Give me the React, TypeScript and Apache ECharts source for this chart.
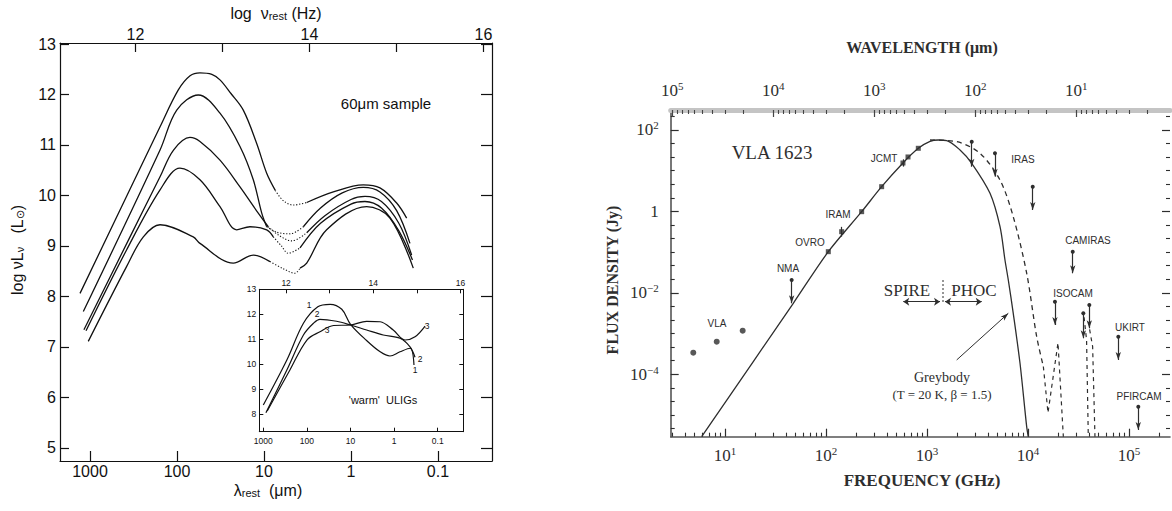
import React, { useEffect, useRef } from 'react';
import * as echarts from 'echarts';

// ---------- Left panel: 60μm sample (x = log10 λrest [μm], y = log νLν [L⊙]) ----------
const sed1Solid = [[3.115, 8.06], [2.195, 11.36], [1.985, 12.09], [1.85, 12.37], [1.736, 12.43], [1.6, 12.4], [1.506, 12.29], [1.38, 12.02], [1.238, 11.69], [1.084, 11.03], [0.969, 10.44], [0.87, 10.1]];
const sed1Dotted = [[0.87, 10.1], [0.78, 9.9], [0.663, 9.81], [0.58, 9.83], [0.509, 9.86]];
const sed1Near = [[0.509, 9.86], [0.203, 10.07], [-0.141, 10.21], [-0.333, 10.15], [-0.525, 9.85], [-0.64, 9.55]];

const sed2Solid = [[3.077, 7.7], [2.195, 10.9], [2.003, 11.69], [1.755, 11.99], [1.506, 11.63], [1.276, 10.97], [1.123, 10.31], [1.026, 9.65], [0.969, 9.38]];
const sed2Dotted = [[0.969, 9.38], [0.85, 9.27], [0.7, 9.24], [0.548, 9.38]];
const sed2Near = [[0.548, 9.38], [0.35, 9.75], [0.1, 10.05], [-0.141, 10.16], [-0.333, 10.07], [-0.525, 9.7], [-0.678, 9.05]];

const sed3Solid = [[3.07, 7.34], [2.54, 9.18], [2.195, 10.37], [2.04, 10.9], [1.851, 11.15], [1.736, 11.07], [1.506, 10.7], [1.276, 10.17], [1.066, 9.65], [0.951, 9.38]];
const sed3Dotted = [[0.951, 9.38], [0.82, 9.2], [0.682, 9.1], [0.509, 9.26]];
const sed3Near = [[0.509, 9.26], [0.3, 9.6], [0.0, 9.92], [-0.161, 9.98], [-0.35, 9.88], [-0.55, 9.45], [-0.697, 8.82]];

const sed4Solid = [[3.046, 7.32], [2.58, 8.92], [2.195, 10.11], [1.966, 10.54], [1.736, 10.31], [1.506, 9.78], [1.314, 9.32], [1.161, 9.38], [0.969, 9.32], [0.893, 9.18]];
const sed4Dotted = [[0.893, 9.18], [0.8, 9.0], [0.721, 8.855], [0.586, 8.96]];
const sed4Near = [[0.586, 8.96], [0.35, 9.45], [0.0, 9.83], [-0.161, 9.88], [-0.35, 9.75], [-0.55, 9.3], [-0.707, 8.72]];

const sed5Solid = [[3.02, 7.11], [2.58, 8.59], [2.387, 9.18], [2.195, 9.42], [1.813, 9.18], [1.736, 9.05], [1.353, 8.66], [1.123, 8.82], [0.931, 8.69]];
const sed5Dotted = [[0.931, 8.69], [0.78, 8.55], [0.644, 8.46], [0.586, 8.56]];
const sed5Near = [[0.586, 8.56], [0.509, 8.66], [0.28, 9.32], [-0.18, 9.78], [-0.448, 9.55], [-0.716, 8.56]];

// ---------- Inset: 'warm' ULIGs ----------
const warm1 = [[3.0, 8.37], [2.46, 10.17], [2.08, 11.64], [1.75, 12.3], [1.47, 12.4], [1.2, 12.2], [1.0, 11.6], [0.63, 10.95], [0.32, 10.5], [0.095, 10.33], [-0.135, 10.5], [-0.365, 10.64], [-0.456, 9.97]];
const warm2 = [[2.94, 8.06], [2.46, 9.77], [2.08, 11.17], [1.85, 11.64], [1.7, 11.8], [1.32, 11.72], [1.0, 11.57], [0.63, 11.37], [0.25, 11.17], [-0.135, 11.04], [-0.365, 10.7], [-0.48, 10.28]];
const warm3 = [[2.91, 8.13], [2.39, 9.77], [2.0, 10.97], [1.7, 11.3], [1.39, 11.55], [1.0, 11.57], [0.63, 11.72], [0.32, 11.7], [0.02, 11.37], [-0.25, 10.97], [-0.48, 11.1], [-0.71, 11.53]];

// ---------- Right panel: VLA 1623 (x = log10 ν [GHz], y = log10 flux [Jy]) ----------
const greybody = [[0.769, -5.536], [1.676, -2.258], [2.023, -0.99], [2.353, -0.007], [2.551, 0.607], [2.762, 1.19], [2.914, 1.55], [3.03, 1.72], [3.112, 1.754], [3.195, 1.74], [3.327, 1.509], [3.443, 1.182], [3.624, 0.444], [3.723, -0.376], [3.772, -1.194], [3.805, -1.686], [3.854, -2.504], [3.921, -3.732], [3.987, -5.29], [4.003, -5.536]];
const modelDashed = [[3.03, 1.754], [3.294, 1.713], [3.525, 1.427], [3.723, 0.771], [3.854, -0.13], [3.987, -1.52], [4.086, -3.079], [4.152, -3.81]];
const modelDashedV = [[4.152, -3.81], [4.198, -4.95], [4.297, -3.23], [4.35, -5.536]];
const modelDashedA = [[4.555, -2.6], [4.58, -3.16], [4.597, -5.536]];
const modelDashedB = [[4.61, -2.9], [4.64, -3.32], [4.663, -5.536]];
const detections = [[2.023, -0.99], [2.155, -0.499], [2.353, -0.007], [2.551, 0.607], [2.762, 1.189], [2.812, 1.337], [2.914, 1.55]];
const vlaPoints = [[0.686, -3.472], [0.918, -3.201], [1.175, -2.931]];
// [log ν, top of limit, arrow tip]
const upperLimits = [[1.66, -1.686, -2.258], [3.443, 1.713, 1.098], [3.673, 1.427, 0.853], [4.047, 0.607, 0.034], [4.443, -0.99, -1.521], [4.267, -2.219, -2.791], [4.548, -2.504, -3.118], [4.607, -2.3, -2.872], [4.894, -3.079, -3.651], [5.092, -4.799, -5.371]];
const errorBars = [[2.155, -0.62, -0.38], [2.762, 1.1, 1.28]];
const spireRange = [2.765, 3.129];
const phocRange = [3.178, 3.542];
const rangeLevel = -2.22;
const pointerFrom = [3.294, -3.65];
const pointerTo = [3.805, -2.504];

// ---------- tick values ----------
const lambdaTicks = [3, 2, 1, 0, -1];
const lambdaLabels = ['1000', '100', '10', '1', '0.1'];
const nuTicks = [12, 13, 14, 15, 16];
const nuLabels = [12, 14, 16];
const lumTicks = [5, 6, 7, 8, 9, 10, 11, 12, 13];
const insetLumTicks = [8, 9, 10, 11, 12, 13];
const freqDecades = [1, 2, 3, 4, 5];
const waveDecades = [1, 2, 3, 4, 5];
const fluxDecades = [-4, -2, 0, 2];

const SANS = '"Liberation Sans", Arial, sans-serif';
const SERIF = '"Liberation Serif", "DejaVu Serif", serif';
const INK = '#111';
const INK2 = '#2e2e2e';

const FREQ_MIN = 0.4624, FREQ_MAX = 5.406;
const WAVE_MIN = 5.477 - FREQ_MAX, WAVE_MAX = 5.477 - FREQ_MIN;
const FLUX_MIN = -5.536, FLUX_MAX = 2.491;

function logMinor(lo: number, hi: number) {
  const out: number[] = [];
  for (let n = -1; n <= 6; n++) {
    for (let k = 2; k <= 9; k++) {
      const v = n + Math.log10(k);
      if (v > lo && v < hi) out.push(v);
    }
  }
  return out;
}
function thirds(lo: number, hi: number) {
  const out: number[] = [];
  for (let k = -18; k <= 9; k++) {
    const v = k / 3;
    if (v > lo && v < hi && k % 6 !== 0) out.push(v);
  }
  return out;
}

const supFmt = (v: number) => (v === 0 ? '{b|1}' : `{b|10}{s|${v < 0 ? '−' + -v : v}}`);
const supRich = {
  b: { fontSize: 17, fontFamily: SERIF, color: INK2 },
  s: { fontSize: 11, fontFamily: SERIF, color: INK2, padding: [0, 0, 9, 0] },
};

function ax(o: any) {
  return {
    type: 'value',
    splitLine: { show: false },
    ...o,
    axisLine: { show: true, onZero: false, lineStyle: { color: INK, width: 1.2 }, ...(o.axisLine || {}) },
    axisTick: { show: true, inside: true, ...(o.axisTick || {}) },
    axisLabel: { show: false, ...(o.axisLabel || {}) },
  };
}

function line(data: number[][], xi: number, yi: number, type: any, width = 1.3, smooth: any = 0.35) {
  return {
    type: 'line', data, xAxisIndex: xi, yAxisIndex: yi, smooth, symbol: 'none', silent: true,
    lineStyle: { color: INK, width, type }, z: 3,
  };
}

const DOT = [1.2, 1.8];

function txt(text: string, x: number, y: number, size: number, family = SANS, extra: any = {}) {
  return {
    type: 'text', x, y, silent: true, ...extra,
    style: {
      text, fill: extra.fill || INK, fontSize: size, fontFamily: family, fontWeight: extra.weight || 'normal',
      align: 'center', verticalAlign: 'middle', textAlign: 'center', textVerticalAlign: 'middle',
      ...(extra.style || {}),
    },
  };
}

function buildOption() {
  const subRich = (size: number, fam: string) => ({
    a: { fontSize: size, fontFamily: fam, fill: INK },
    s: { fontSize: Math.round(size * 0.7), fontFamily: fam, fill: INK, padding: [Math.round(size * 0.35), 0, 0, 0] },
  });

  const xAxis = [
    // 0 main bottom λ
    ax({ gridIndex: 0, position: 'bottom', min: -1.621, max: 3.345, inverse: true,
      axisTick: { length: 10, customValues: lambdaTicks, lineStyle: { color: INK, width: 1.2 } },
      axisLabel: { show: true, customValues: lambdaTicks, formatter: (v: number) => lambdaLabels[lambdaTicks.indexOf(v)], fontSize: 16, fontFamily: SANS, color: INK, margin: 2 } }),
    // 1 main top ν
    ax({ gridIndex: 0, position: 'top', min: 11.132, max: 16.098,
      axisTick: { length: 9, customValues: nuTicks, lineStyle: { color: INK, width: 1.2 } },
      axisLabel: { show: true, customValues: nuLabels, fontSize: 16, fontFamily: SANS, color: INK, margin: 1 } }),
    // 2 inset bottom
    ax({ gridIndex: 1, position: 'bottom', min: -1.587, max: 3.092, inverse: true,
      axisLine: { lineStyle: { color: INK, width: 1 } },
      axisTick: { length: 4, customValues: lambdaTicks, lineStyle: { color: INK } },
      axisLabel: { show: true, customValues: lambdaTicks, formatter: (v: number) => lambdaLabels[lambdaTicks.indexOf(v)], fontSize: 8.5, fontFamily: SANS, color: INK, margin: 5 } }),
    // 3 inset top
    ax({ gridIndex: 1, position: 'top', min: 11.385, max: 16.064,
      axisLine: { lineStyle: { color: INK, width: 1 } },
      axisTick: { length: 4, customValues: nuTicks, lineStyle: { color: INK } },
      axisLabel: { show: true, customValues: nuLabels, fontSize: 8.5, fontFamily: SANS, color: INK, margin: 2 } }),
    // 4 right bottom major
    ax({ gridIndex: 2, position: 'bottom', min: FREQ_MIN, max: FREQ_MAX,
      axisLine: { lineStyle: { color: '#555', width: 1.6 } },
      axisTick: { length: 8, customValues: freqDecades, lineStyle: { color: INK2, width: 1.2 } },
      axisLabel: { show: true, customValues: freqDecades, formatter: supFmt, rich: supRich, margin: 9 } }),
    // 5 right bottom minor
    ax({ gridIndex: 2, position: 'bottom', min: FREQ_MIN, max: FREQ_MAX,
      axisLine: { show: false },
      axisTick: { length: 4, customValues: logMinor(FREQ_MIN, FREQ_MAX), lineStyle: { color: INK2, width: 1.1 } } }),
    // 6 right top major (wavelength)
    ax({ gridIndex: 2, position: 'top', min: WAVE_MIN, max: WAVE_MAX, inverse: true,
      axisLine: { lineStyle: { color: '#c4c4c4', width: 5 } },
      axisTick: { length: 7, customValues: waveDecades, lineStyle: { color: '#444', width: 1.2 } },
      axisLabel: { show: true, customValues: waveDecades, formatter: supFmt, rich: supRich, margin: 10 } }),
    // 7 right top minor
    ax({ gridIndex: 2, position: 'top', min: WAVE_MIN, max: WAVE_MAX, inverse: true,
      axisLine: { show: false },
      axisTick: { length: 4, customValues: logMinor(WAVE_MIN, WAVE_MAX), lineStyle: { color: '#444', width: 1.1 } } }),
  ];

  const yAxis = [
    // 0 main left
    ax({ gridIndex: 0, position: 'left', min: 4.74, max: 13.02,
      axisTick: { length: 9, customValues: lumTicks, lineStyle: { color: INK, width: 1.2 } },
      axisLabel: { show: true, customValues: lumTicks, fontSize: 16, fontFamily: SANS, color: INK, margin: 4 } }),
    // 1 main right
    ax({ gridIndex: 0, position: 'right', min: 4.74, max: 13.02,
      axisTick: { length: 11, customValues: lumTicks, lineStyle: { color: INK, width: 1.2 } } }),
    // 2 inset left
    ax({ gridIndex: 1, position: 'left', min: 7.3, max: 13,
      axisLine: { lineStyle: { color: INK, width: 1 } },
      axisTick: { length: 4, customValues: insetLumTicks, lineStyle: { color: INK } },
      axisLabel: { show: true, customValues: insetLumTicks, fontSize: 8.5, fontFamily: SANS, color: INK, margin: 3 } }),
    // 3 inset right
    ax({ gridIndex: 1, position: 'right', min: 7.3, max: 13,
      axisLine: { lineStyle: { color: INK, width: 1 } },
      axisTick: { length: 4, customValues: insetLumTicks, lineStyle: { color: INK } } }),
    // 4 right-panel left major
    ax({ gridIndex: 2, position: 'left', min: FLUX_MIN, max: FLUX_MAX,
      axisLine: { lineStyle: { color: '#555', width: 1.6 } },
      axisTick: { length: 8, customValues: fluxDecades, lineStyle: { color: INK2, width: 1.2 } },
      axisLabel: { show: true, customValues: fluxDecades, formatter: supFmt, rich: supRich, margin: 12 } }),
    // 5 left minor
    ax({ gridIndex: 2, position: 'left', min: FLUX_MIN, max: FLUX_MAX,
      axisLine: { show: false },
      axisTick: { length: 4, customValues: thirds(FLUX_MIN, FLUX_MAX), lineStyle: { color: INK2, width: 1.1 } } }),
    // 6 right side major
    ax({ gridIndex: 2, position: 'right', min: FLUX_MIN, max: FLUX_MAX,
      axisLine: { show: false },
      axisTick: { length: 8, customValues: fluxDecades, lineStyle: { color: INK2, width: 1.2 } } }),
    // 7 right side minor
    ax({ gridIndex: 2, position: 'right', min: FLUX_MIN, max: FLUX_MAX,
      axisLine: { show: false },
      axisTick: { length: 4, customValues: thirds(FLUX_MIN, FLUX_MAX), lineStyle: { color: INK2, width: 1.1 } } }),
  ];

  const main: any[] = [];
  [
    [sed1Solid, sed1Dotted, sed1Near],
    [sed2Solid, sed2Dotted, sed2Near],
    [sed3Solid, sed3Dotted, sed3Near],
    [sed4Solid, sed4Dotted, sed4Near],
    [sed5Solid, sed5Dotted, sed5Near],
  ].forEach(([a, b, c]) => {
    main.push(line(a, 0, 0, 'solid', 1.3));
    main.push(line(b, 0, 0, DOT, 1.1));
    main.push(line(c, 0, 0, 'solid', 1.3));
  });

  const inset = [warm1, warm2, warm3].map((d) => line(d, 2, 2, 'solid', 1.2, 0.35));

  const right: any[] = [
    {
      ...line(greybody, 4, 4, 'solid', 1.3, 0.3), lineStyle: { color: INK2, width: 1.3 },
      markLine: {
        silent: true, symbol: ['none', 'arrow'], symbolSize: [4, 8], label: { show: false },
        lineStyle: { color: INK2, width: 1, type: 'solid' },
        data: [[{ coord: pointerFrom }, { coord: pointerTo }]],
      },
    },
    {
      ...line(modelDashed, 4, 4, [5, 4], 1.3, 0.3), lineStyle: { color: INK2, width: 1.3, type: [5, 4] },
      markLine: {
        silent: true, symbol: ['none', 'none'], label: { show: false },
        lineStyle: { color: INK2, width: 1.2, type: 'solid' },
        data: errorBars.map(([x, lo, hi]) => [{ coord: [x, lo] }, { coord: [x, hi] }]),
      },
    },
    { ...line(modelDashedV, 4, 4, [4, 4], 1.2, false), lineStyle: { color: INK2, width: 1.2, type: [4, 4] } },
    { ...line(modelDashedA, 4, 4, [4, 4], 1.2, false), lineStyle: { color: INK2, width: 1.2, type: [4, 4] } },
    { ...line(modelDashedB, 4, 4, [4, 4], 1.2, false), lineStyle: { color: INK2, width: 1.2, type: [4, 4] } },
    {
      type: 'scatter', data: detections, xAxisIndex: 4, yAxisIndex: 4, symbol: 'rect', symbolSize: 5, silent: true, z: 4,
      itemStyle: { color: INK2 },
      markLine: {
        silent: true, symbol: ['circle', 'arrow'], symbolSize: [4, 8], label: { show: false },
        lineStyle: { color: INK2, width: 1.2, type: 'solid' },
        data: upperLimits.map(([x, top, tip]) => [{ coord: [x, top] }, { coord: [x, tip] }]),
      },
    },
    {
      type: 'scatter', data: vlaPoints, xAxisIndex: 4, yAxisIndex: 4, symbol: 'circle', symbolSize: 6, silent: true, z: 4,
      itemStyle: { color: INK2 },
      markLine: {
        silent: true, symbol: ['arrow', 'arrow'], symbolSize: [6, 6], label: { show: false },
        lineStyle: { color: INK2, width: 1, type: 'solid' },
        data: [
          [{ coord: [spireRange[0], rangeLevel] }, { coord: [spireRange[1], rangeLevel] }],
          [{ coord: [phocRange[0], rangeLevel] }, { coord: [phocRange[1], rangeLevel] }],
        ],
      },
    },
  ];

  const graphic: any[] = [
    // left panel titles
    txt('{a|log  ν}{s|rest}{a| (Hz)}', 276, 13, 16, SANS, { style: { rich: subRich(16, SANS) } }),
    txt('{a|λ}{s|rest}{a|  (μm)}', 268, 490, 16, SANS, { style: { rich: subRich(16, SANS) } }),
    txt('{a|log νL}{s|ν}{a|   (L}{s|⊙}{a|)}', 17, 250, 16, SANS, { rotation: Math.PI / 2, style: { rich: subRich(16, SANS) } }),
    txt('60μm sample', 386, 103, 15),
    txt("'warm'  ULIGs", 383, 400, 11),
    txt('1', 309, 305, 8.5), txt('2', 317, 314, 8.5), txt('3', 327, 330, 8.5),
    txt('3', 427, 326, 8.5), txt('2', 420, 359, 8.5), txt('1', 415, 370, 8.5),
    // right panel
    txt('WAVELENGTH (μm)', 922, 47, 16, SERIF, { weight: 'bold', fill: INK2 }),
    txt('FREQUENCY (GHz)', 922, 480, 17, SERIF, { weight: 'bold', fill: INK2 }),
    txt('FLUX DENSITY (Jy)', 612, 280, 16, SERIF, { weight: 'bold', fill: INK2, rotation: Math.PI / 2 }),
    txt('VLA 1623', 772, 152, 19, SERIF, { fill: INK2 }),
    txt('SPIRE', 907, 290, 17, SERIF, { fill: INK2 }),
    txt('PHOC', 974, 290, 17, SERIF, { fill: INK2 }),
    txt('Greybody', 942, 377, 14, SERIF, { fill: INK2 }),
    txt('(T = 20 K, β = 1.5)', 942, 394, 13, SERIF, { fill: INK2 }),
    txt('NMA', 788, 268, 10, SANS, { fill: INK2 }),
    txt('OVRO', 810, 242, 10, SANS, { fill: INK2 }),
    txt('IRAM', 838, 214, 10, SANS, { fill: INK2 }),
    txt('JCMT', 884, 158, 10, SANS, { fill: INK2 }),
    txt('IRAS', 1023, 159, 10, SANS, { fill: INK2 }),
    txt('CAMIRAS', 1088, 240, 10, SANS, { fill: INK2 }),
    txt('ISOCAM', 1073, 293, 10, SANS, { fill: INK2 }),
    txt('UKIRT', 1130, 327, 10, SANS, { fill: INK2 }),
    txt('PFIRCAM', 1139, 396, 10, SANS, { fill: INK2 }),
    txt('VLA', 717, 323, 10, SANS, { fill: INK2 }),
    {
      type: 'line', silent: true, shape: { x1: 943, y1: 280, x2: 943, y2: 303 },
      style: { stroke: INK2, lineWidth: 1, lineDash: [2, 2] },
    },
  ];

  return {
    animation: false,
    backgroundColor: '#fff',
    grid: [
      { left: 60, top: 43, width: 432, height: 418, show: false, containLabel: false, outerBoundsMode: 'none' },
      { left: 259.3, top: 289.3, width: 204, height: 142.4, show: true, backgroundColor: '#fff', borderWidth: 0, containLabel: false, outerBoundsMode: 'none' },
      { left: 670.7, top: 110, width: 499.3, height: 326.7, show: false, containLabel: false, outerBoundsMode: 'none' },
    ],
    xAxis,
    yAxis,
    series: [...main, ...inset, ...right],
    graphic,
  };
}

export default function App() {
  const ref = useRef<HTMLDivElement>(null);
  useEffect(() => {
    if (!ref.current) return;
    const chart = echarts.init(ref.current, undefined, { renderer: 'svg' });
    chart.setOption(buildOption() as any);
    return () => chart.dispose();
  }, []);
  return <div ref={ref} style={{ position: 'absolute', left: 0, top: 0, width: 1172, height: 511 }} />;
}
